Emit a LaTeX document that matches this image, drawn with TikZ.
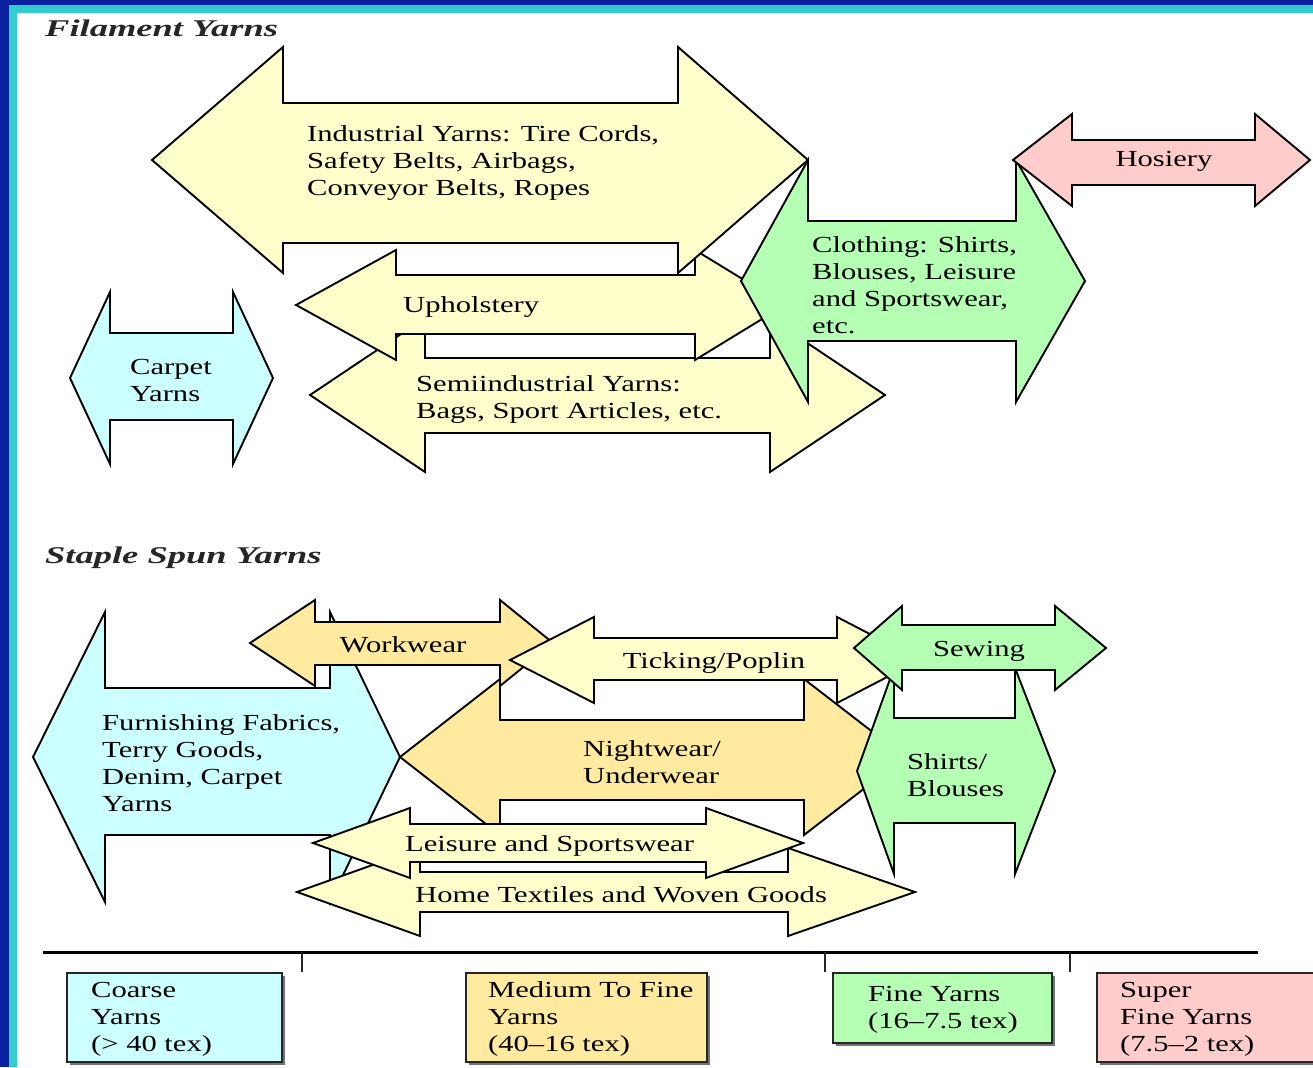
\documentclass[tikz,border=0pt]{standalone}
\usepackage{fontspec}
\setmainfont[FakeStretch=1.33]{Liberation Serif}
\newfontfamily\ttlfont[FakeStretch=1.52]{Liberation Serif}
\definecolor{yel}{HTML}{FFFFCC}
\definecolor{cyf}{HTML}{CCFFFF}
\definecolor{grf}{HTML}{B4FFB4}
\definecolor{pkf}{HTML}{FFCCCC}
\definecolor{mcf}{HTML}{FFEAA0}
\definecolor{frameblue}{HTML}{0A22A0}
\definecolor{framecyan}{HTML}{33CCCC}
\newcommand\DblArr[9]{\filldraw[arr,fill=#1] (#2,#6) -- (#3,#6-#9) -- (#3,#7) -- (#4,#7) -- (#4,#6-#9) -- (#5,#6) -- (#4,#6+#9) -- (#4,#8) -- (#3,#8) -- (#3,#6+#9) -- cycle;}
\begin{document}
\begin{tikzpicture}[x=1pt,y=-1pt,
  arr/.style={draw=black, line width=1.9pt, line join=miter},
  lbl/.style={inner sep=0pt, anchor=west, align=left, font=\fontsize{23}{27}\selectfont, yshift=-3pt},
  clbl/.style={lbl, anchor=center, align=center},
  ttl/.style={inner sep=0pt, anchor=west, font=\ttlfont\bfseries\itshape\fontsize{24}{28}\selectfont, text=black!85},
  keybox/.style={draw=black!85, line width=1.6pt},
  shadow/.style={fill=black!55}]
\useasboundingbox (0,0) rectangle (1313,1067);
\fill[white] (0,0) rectangle (1313,1067);
% frame
\fill[frameblue] (0,0) rectangle (9,1067);
\fill[frameblue] (0,0) rectangle (1313,5);
\fill[framecyan] (9,5) rectangle (17,1067);
\fill[framecyan] (9,5) rectangle (1313,13);

% ---------- Filament yarns ----------
\node[ttl] (filtitle) at (45,28) {Filament Yarns};
\DblArr{cyf}{70}{110}{233}{273}{378}{333}{420}{86}
\DblArr{yel}{310}{425}{770}{885}{395}{358}{433}{77}
\DblArr{yel}{296}{396}{695}{785}{305}{275}{334}{55}
\DblArr{yel}{152}{283}{678}{808}{160}{103}{243}{113}
\DblArr{grf}{741}{808}{1016}{1085}{281}{221}{341}{121}
\DblArr{pkf}{1013}{1072}{1255}{1310}{160}{140}{185}{46}

\node[lbl] (ind) at (307,160) {Industrial Yarns: Tire Cords,\\Safety Belts, Airbags,\\Conveyor Belts, Ropes};
\node[clbl] (hos) at (1164,158) {Hosiery};
\node[lbl] (uph) at (403,304) {Upholstery};
\node[lbl] (clo) at (812,282) {Clothing: Shirts,\\Blouses, Leisure\\and Sportswear,\\etc.};
\node[lbl] (car) at (130,377) {Carpet\\Yarns};
\node[lbl] (sem) at (416,396) {Semiindustrial Yarns:\\Bags, Sport Articles, etc.};

% ---------- Staple spun yarns ----------
\node[ttl] (statitle) at (45,558) {Staple Spun Yarns};
\DblArr{cyf}{33}{105}{330}{400}{757}{688}{835}{145}
\DblArr{mcf}{250}{315}{500}{553}{643}{622}{665}{43}
\DblArr{mcf}{400}{500}{804}{905}{757}{720}{800}{78}
\DblArr{yel}{510}{594}{837}{920}{660}{638}{680}{43}
\DblArr{yel}{297}{420}{788}{915}{892}{872}{912}{44}
\DblArr{yel}{313}{410}{706}{803}{843}{824}{862}{35}
\DblArr{grf}{857}{894}{1015}{1055}{771}{718}{823}{103}
\DblArr{grf}{854}{902}{1055}{1106}{648}{625}{670}{42}

\node[clbl] (wor) at (403,642) {Workwear};
\node[clbl] (tic) at (714,660) {Ticking/Poplin};
\node[clbl] (sew) at (979,648) {Sewing};
\node[lbl] (fur) at (102,760) {Furnishing Fabrics,\\Terry Goods,\\Denim, Carpet\\Yarns};
\node[lbl] (nig) at (583,759) {Nightwear/\\Underwear};
\node[lbl] (shi) at (907,772) {Shirts/\\Blouses};
\node[lbl] (lei) at (405,843) {Leisure and Sportswear};
\node[lbl] (hom) at (415,892) {Home Textiles and Woven Goods};

% ---------- scale ----------
\draw[line width=3pt, black] (43,952) -- (1258,952);
\draw[line width=1.5pt, black!85] (302,952) -- (302,972);
\draw[line width=1.5pt, black!85] (825,952) -- (825,972);
\draw[line width=1.5pt, black!85] (1070,952) -- (1070,972);

\fill[shadow] (70,976) rectangle (285,1065);
\filldraw[keybox, fill=cyf] (67,973) rectangle (282,1062);
\fill[shadow] (469,976) rectangle (710,1065);
\filldraw[keybox, fill=mcf] (466,973) rectangle (707,1062);
\fill[shadow] (836,976) rectangle (1055,1046);
\filldraw[keybox, fill=grf] (833,973) rectangle (1052,1043);
\fill[shadow] (1100,976) rectangle (1313,1065);
\filldraw[keybox, fill=pkf] (1097,973) rectangle (1316,1062);

\node[lbl] (coarse) at (91,1016) {Coarse\\Yarns\\(> 40 tex)};
\node[lbl] (medium) at (488,1016) {Medium To Fine\\Yarns\\(40--16 tex)};
\node[lbl] (fine) at (868,1007) {Fine Yarns\\(16--7.5 tex)};
\node[lbl] (super) at (1120,1016) {Super\\Fine Yarns\\(7.5--2 tex)};
\end{tikzpicture}
\end{document}
